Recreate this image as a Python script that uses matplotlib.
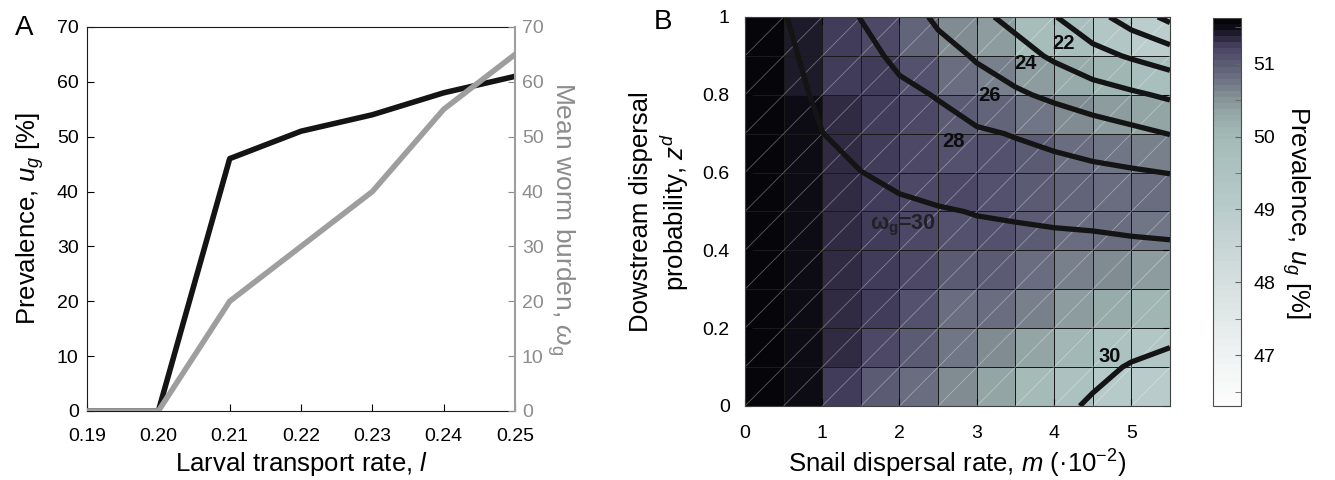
import numpy as np
import matplotlib
matplotlib.use("Agg")
import matplotlib.pyplot as plt
from matplotlib.colors import LinearSegmentedColormap
from matplotlib.collections import LineCollection

plt.rcParams['font.family'] = ['Liberation Sans', 'DejaVu Sans']
plt.rcParams['mathtext.fontset'] = 'custom'
plt.rcParams['mathtext.rm'] = 'Liberation Sans'
plt.rcParams['mathtext.it'] = 'Liberation Sans:italic'
plt.rcParams['mathtext.bf'] = 'Liberation Sans:bold'

# ---------------- Panel A data ----------------
transport_rate = [0.19, 0.20, 0.21, 0.22, 0.23, 0.24, 0.25]
prevalence_A = [0, 0, 46, 51, 54, 58, 61]
worm_burden_A = [0, 0, 20, 30, 40, 55, 65]

# ---------------- Panel B data ----------------
snail_dispersal_edges = [0, 0.5, 1.0, 1.5, 2.0, 2.5, 3.0, 3.5, 4.0, 4.5, 5.0, 5.5]
downstream_edges = [0, 0.1, 0.2, 0.3, 0.4, 0.5, 0.6, 0.7, 0.8, 0.9, 1.0]

# prevalence per cell: columns = snail dispersal cells, each list bottom -> top
prev_col0 = [51.6] * 10
prev_col1 = [51.53] * 8 + [51.46, 51.46]
prev_col2 = [51.26, 51.37, 51.38, 51.38, 51.38, 51.36, 51.36, 51.38, 51.26, 51.26]
prev_col3 = [51.04, 51.18, 51.22, 51.26, 51.27, 51.27, 51.27, 51.25, 51.25, 51.18]
prev_col4 = [50.82, 50.98, 51.06, 51.14, 51.18, 51.20, 51.18, 51.17, 51.10, 50.94]
prev_col5 = [50.60, 50.74, 50.87, 51.00, 51.10, 51.14, 51.10, 51.04, 50.87, 50.60]
prev_col6 = [50.33, 50.60, 50.82, 51.00, 51.06, 51.12, 51.10, 50.95, 50.66, 50.45]
prev_col7 = [49.90, 50.32, 50.70, 50.87, 51.00, 51.03, 50.97, 50.74, 50.45, 49.85]
prev_col8 = [49.55, 49.98, 50.45, 50.70, 50.87, 50.94, 50.82, 50.60, 50.25, 49.75]
prev_col9 = [49.10, 49.55, 50.25, 50.60, 50.82, 50.87, 50.74, 50.45, 50.08, 49.35]
prev_col10 = [48.97, 49.35, 50.12, 50.45, 50.74, 50.82, 50.66, 50.32, 49.76, 48.90]

# mean worm burden at grid nodes: rows = downstream probability (0..1), cols = snail dispersal (0..5.5)
worm_x = [0, 0.5, 1.0, 1.5, 2.0, 2.5, 3.0, 3.5, 4.0, 4.5, 5.0, 5.5]
worm_y = [0, 0.1, 0.2, 0.3, 0.4, 0.5, 0.6, 0.7, 0.8, 0.9, 1.0]
worm_y00 = [31.0, 30.9, 30.8, 30.7, 30.55, 30.45, 30.35, 30.2, 30.1, 29.95, 29.75, 29.6]
worm_y01 = [31.0, 30.95, 30.85, 30.75, 30.6, 30.5, 30.4, 30.3, 30.2, 30.1, 29.97, 29.85]
worm_y02 = [31.0, 30.95, 30.9, 30.8, 30.7, 30.6, 30.5, 30.45, 30.4, 30.3, 30.2, 30.15]
worm_y03 = [31.0, 30.95, 30.9, 30.85, 30.8, 30.75, 30.7, 30.6, 30.55, 30.5, 30.4, 30.3]
worm_y04 = [31.0, 30.9, 30.8, 30.7, 30.6, 30.5, 30.4, 30.4, 30.35, 30.3, 30.2, 30.15]
worm_y05 = [31.0, 30.85, 30.6, 30.4, 30.25, 30.1, 29.95, 29.85, 29.75, 29.7, 29.65, 29.6]
worm_y06 = [31.1, 30.8, 30.4, 30.02, 29.7, 29.4, 29.1, 28.8, 28.6, 28.4, 28.2, 27.95]
worm_y07 = [31.2, 30.7, 30.02, 29.5, 29.0, 28.6, 28.25, 27.9, 27.5, 27.0, 26.5, 25.95]
worm_y08 = [31.3, 30.6, 29.7, 29.0, 28.4, 27.9, 26.9, 26.3, 25.6, 24.9, 24.3, 23.7]
worm_y09 = [31.4, 30.3, 29.5, 28.6, 27.6, 26.8, 25.8, 24.8, 23.7, 22.6, 21.8, 21.0]
worm_y10 = [31.5, 30.1, 29.0, 27.95, 27.2, 25.6, 24.5, 23.4, 22.1, 20.7, 19.1, 17.5]
contour_levels = [18, 20, 22, 24, 26, 28, 30]
colorbar_ticks = [47, 48, 49, 50, 51]

# colormap (sampled from the reference colorbar, white -> black)
cmap_nodes = [
    (0.00, (0.99, 0.99, 0.99)),
    (0.08, (0.96, 0.97, 0.97)),
    (0.20, (0.90, 0.92, 0.92)),
    (0.35, (0.82, 0.86, 0.86)),
    (0.50, (0.73, 0.80, 0.80)),
    (0.65, (0.66, 0.75, 0.74)),
    (0.72, (0.62, 0.71, 0.70)),
    (0.76, (0.58, 0.65, 0.65)),
    (0.80, (0.52, 0.57, 0.59)),
    (0.83, (0.46, 0.49, 0.54)),
    (0.87, (0.39, 0.40, 0.48)),
    (0.90, (0.34, 0.33, 0.44)),
    (0.93, (0.28, 0.26, 0.38)),
    (0.95, (0.20, 0.18, 0.28)),
    (0.965, (0.13, 0.12, 0.18)),
    (0.98, (0.06, 0.05, 0.09)),
    (1.00, (0.02, 0.02, 0.04)),
]
cmap = LinearSegmentedColormap.from_list('prev', cmap_nodes, N=64)
vmin, vmax = 46.3, 51.63

LBL = 18.5
TCK = 14

fig = plt.figure(figsize=(13.35, 4.8), dpi=100)

# ================= Panel A =================
axA = fig.add_axes([0.0652, 0.1438, 0.3206, 0.8])
gray = (0.62, 0.62, 0.62)
axA.plot(transport_rate, prevalence_A, color=(0.08, 0.08, 0.08), lw=4, zorder=3)
axA.set_xlim(0.19, 0.25)
axA.set_ylim(0, 70)
axA.set_xticks(transport_rate)
axA.set_xticklabels(['%.2f' % v for v in transport_rate])
axA.set_yticks(range(0, 71, 10))
axA.tick_params(direction='in', length=5, labelsize=TCK, top=False)
axA.tick_params(axis='x', pad=12)
axA.tick_params(axis='y', pad=6)
axA.set_xlabel('Larval transport rate, $\\it{l}$', fontsize=LBL, labelpad=4)
axA.set_ylabel('Prevalence, $u_g$ [%]', fontsize=LBL, labelpad=8)
for s in ['left', 'bottom', 'top']:
    axA.spines[s].set_color((0.1, 0.1, 0.1))
axA.spines['right'].set_visible(False)

axA2 = axA.twinx()
axA2.plot(transport_rate, worm_burden_A, color=gray, lw=4, zorder=2)
axA2.set_ylim(0, 70)
axA2.set_yticks(range(0, 71, 10))
axA2.tick_params(direction='in', length=5, labelsize=TCK, colors=(0.55, 0.55, 0.55), pad=5)
axA2.spines['right'].set_color(gray)
axA2.spines['right'].set_linewidth(1.5)
for s in ['left', 'bottom', 'top']:
    axA2.spines[s].set_visible(False)
axA2.set_ylabel('Mean worm burden, $\\omega_\\mathrm{g}$', fontsize=19, color=(0.55, 0.55, 0.55),
                rotation=270, labelpad=24)
fig.text(0.011, 0.941, 'A', fontsize=20, ha='left', va='center')

# ================= Panel B =================
axB = fig.add_axes([0.558, 0.1542, 0.3184, 0.8104])
prev = np.array([prev_col0, prev_col1, prev_col2, prev_col3, prev_col4, prev_col5,
                 prev_col6, prev_col7, prev_col8, prev_col9, prev_col10]).T
xe = np.array(snail_dispersal_edges)
ye = np.array(downstream_edges)
mesh = axB.pcolormesh(xe, ye, prev, cmap=cmap, vmin=vmin, vmax=vmax,
                      edgecolors=(0.1, 0.1, 0.1), linewidth=0.7, zorder=1)
# faint diagonals in each cell
segs = []
for i in range(len(xe) - 1):
    for j in range(len(ye) - 1):
        segs.append([(xe[i], ye[j]), (xe[i + 1], ye[j + 1])])
axB.add_collection(LineCollection(segs, colors=[(1, 1, 1, 0.35)], linewidths=0.6, zorder=2))

W = np.array([worm_y00, worm_y01, worm_y02, worm_y03, worm_y04, worm_y05,
              worm_y06, worm_y07, worm_y08, worm_y09, worm_y10])
axB.contour(worm_x, worm_y, W, levels=contour_levels, colors=[(0.08, 0.08, 0.08)],
            linewidths=3.8, zorder=3)

lab_kw = dict(fontsize=14.5, fontweight='bold', ha='center', va='center', zorder=5, color=(0.05, 0.05, 0.05))
axB.text(4.12, 0.932, '22', **lab_kw)
axB.text(3.63, 0.881, '24', **lab_kw)
axB.text(3.17, 0.797, '26', **lab_kw)
axB.text(2.70, 0.680, '28', **lab_kw)
axB.text(4.72, 0.127, '30', **lab_kw)
axB.text(2.05, 0.464, '$\\mathbf{\\omega}_\\mathbf{g}$=30', fontsize=15.5, fontweight='bold',
         ha='center', va='center', zorder=5, color=(0.13, 0.13, 0.15))

axB.set_xlim(0, 5.5)
axB.set_ylim(0, 1)
axB.set_xticks([0, 1, 2, 3, 4, 5])
axB.set_yticks([0, 0.2, 0.4, 0.6, 0.8, 1.0])
axB.set_yticklabels(['0', '0.2', '0.4', '0.6', '0.8', '1'])
axB.tick_params(direction='in', length=5, labelsize=TCK, top=True, right=True)
axB.tick_params(axis='x', pad=14)
axB.tick_params(axis='y', pad=11)
axB.set_xlabel('Snail dispersal rate, $\\it{m}$ (\u00b710$^{-2}$)', fontsize=LBL, labelpad=4)
axB.set_ylabel('Dowstream dispersal\nprobability, $z^d$', fontsize=LBL, labelpad=8, linespacing=1.25)
for s in axB.spines.values():
    s.set_color((0.25, 0.25, 0.25))
    s.set_zorder(6)
fig.text(0.490, 0.954, 'B', fontsize=20, ha='left', va='center')

# colorbar
cax = fig.add_axes([0.9086, 0.154, 0.021, 0.8085])
cb = fig.colorbar(mesh, cax=cax, ticks=colorbar_ticks)
cb.outline.set_edgecolor((0.3, 0.3, 0.3))
cax.yaxis.set_minor_locator(matplotlib.ticker.MultipleLocator(0.5))
cax.tick_params(which='both', direction='in', length=4, labelsize=TCK, pad=9, color=(0.4, 0.4, 0.4))
cb.set_label('Prevalence, $u_g$ [%]', fontsize=LBL, rotation=270, labelpad=26)

fig.savefig('out.png', dpi=100)
